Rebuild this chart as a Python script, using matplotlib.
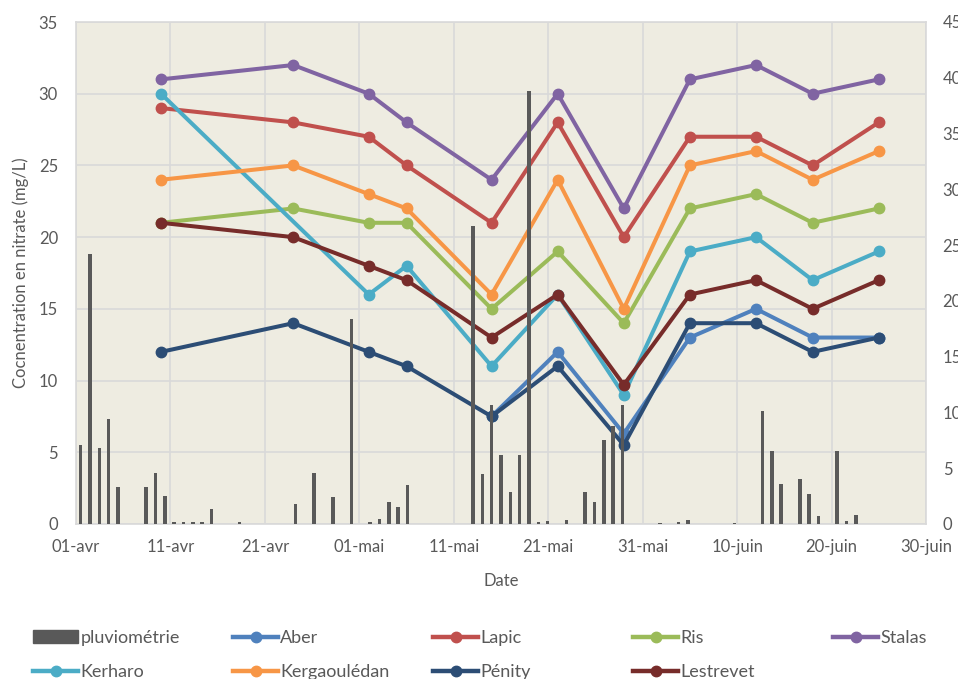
import matplotlib
matplotlib.use("Agg")
import matplotlib.pyplot as plt
import matplotlib.dates as mdates
from matplotlib.lines import Line2D
from matplotlib.patches import Patch
import numpy as np
import pandas as pd

plt.rcParams['font.family'] = ['Lato', 'DejaVu Sans']

# ---------------- data ----------------
start_date = "2019-04-01"
end_date = "2019-06-30"
sample_dates = ["2019-04-10", "2019-04-24", "2019-05-02", "2019-05-06", "2019-05-15",
                "2019-05-22", "2019-05-29", "2019-06-05", "2019-06-12", "2019-06-18",
                "2019-06-25"]

nan = np.nan
aber = [nan, nan, nan, nan, 7.5, 12, 6.3, 13, 15, 13, 13]
lapic = [29, 28, 27, 25, 21, 28, 20, 27, 27, 25, 28]
ris = [21, 22, 21, 21, 15, 19, 14, 22, 23, 21, 22]
stalas = [31, 32, 30, 28, 24, 30, 22, 31, 32, 30, 31]
kerharo = [30, nan, 16, 18, 11, 16, 9, 19, 20, 17, 19]
kergaouledan = [24, 25, 23, 22, 16, 24, 15, 25, 26, 24, 26]
penity = [12, 14, 12, 11, 7.5, 11, 5.5, 14, 14, 12, 13]
lestrevet = [21, 20, 18, 17, 13, 16, 9.7, 16, 17, 15, 17]

# daily rainfall, 01-avr .. 30-juin (91 days)
pluvio = [7.1, 24.2, 6.8, 9.4, 3.3, 0, 0, 3.3, 4.6, 2.5,
          0.2, 0.2, 0.2, 0.2, 1.3, 0, 0, 0.2, 0, 0,
          0, 0, 0, 1.8, 0, 4.6, 0, 2.4, 0, 18.4,
          0, 0.2, 0.45, 2.0, 1.5, 3.5, 0, 0, 0, 0,
          0, 0, 26.7, 4.5, 10.7, 6.2, 2.9, 6.2, 38.8, 0.2,
          0.3, 0, 0.4, 0, 2.9, 2.0, 7.5, 8.8, 10.7, 0,
          0, 0, 0.1, 0, 0.2, 0.4, 0, 0, 0, 0,
          0.1, 0, 0, 10.1, 6.5, 3.6, 0, 4.0, 2.7, 0.75,
          0, 6.5, 0.3, 0.85, 0, 0, 0, 0, 0, 0, 0]

xtick_labels = ["01-avr", "11-avr", "21-avr", "01-mai", "11-mai", "21-mai",
                "31-mai", "10-juin", "20-juin", "30-juin"]

series_names = ["Aber", "Lapic", "Ris", "Stalas", "Kerharo", "Kergaoulédan", "Pénity", "Lestrevet"]
series_values = [aber, lapic, ris, stalas, kerharo, kergaouledan, penity, lestrevet]
series_colors = ["#4F81BD", "#C0504D", "#9BBB59", "#8064A2", "#4BACC6", "#F79646", "#2C4D75", "#772C2A"]
bar_color = "#595959"
text_color = "#595959"
grid_color = "#D9D9D9"

# ---------------- figure ----------------
W, H = 958, 679
fig = plt.figure(figsize=(W / 100, H / 100), dpi=100)
left, right, top, bottom = 76, 926, 22, 524
ax = fig.add_axes([left / W, 1 - bottom / H, (right - left) / W, (bottom - top) / H])
ax.set_facecolor("#EEECE1")

x0 = mdates.date2num(pd.Timestamp(start_date))
x1 = mdates.date2num(pd.Timestamp(end_date))
xd = mdates.date2num(pd.to_datetime(sample_dates))

for name, vals, col in zip(series_names, series_values, series_colors):
    v = np.array(vals, dtype=float)
    m = ~np.isnan(v)
    ax.plot(xd[m], v[m], color=col, lw=2.9, marker="o", ms=7.5,
            solid_joinstyle="round", solid_capstyle="round", label=name, zorder=3)

ax.set_xlim(x0, x1)
ax.set_ylim(0, 35)
ax.set_yticks(np.arange(0, 36, 5))
ticks = x0 + np.arange(len(xtick_labels)) * 10
ax.set_xticks(ticks)
ax.set_xticklabels(xtick_labels)
ax.grid(True, color=grid_color, lw=1.2)
ax.set_axisbelow(True)
for s in ax.spines.values():
    s.set_color(grid_color)
    s.set_linewidth(1.2)
ax.tick_params(axis="both", length=0, colors=text_color, labelsize=12)
ax.tick_params(axis="y", pad=13)
ax.tick_params(axis="x", pad=11)
ax.set_ylabel("Cocnentration en nitrate (mg/L)", color=text_color, fontsize=12, labelpad=7)
ax.set_xlabel("Date", color=text_color, fontsize=12, labelpad=13)

# rainfall on secondary axis (category slots of one day each)
ax2 = ax.twinx()
n = len(pluvio)
slot = (x1 - x0) / n
bar_x = x0 + (np.arange(n) + 0.5) * slot
ax2.bar(bar_x, pluvio, width=slot * 0.38, color=bar_color, zorder=2, label="pluviométrie")
ax2.set_ylim(0, 45)
ax2.set_yticks(np.arange(0, 46, 5))
ax2.tick_params(axis="y", length=0, colors=text_color, labelsize=12, pad=12)
for s in ax2.spines.values():
    s.set_visible(False)
ax2.set_xlim(x0, x1)

# ---------------- legend (5 columns of 200 px) ----------------
handles = [Patch(facecolor=bar_color, edgecolor=bar_color)]
labels = ["pluviométrie"]
for name, col in zip(series_names, series_colors):
    handles.append(Line2D([], [], color=col, lw=3.2, marker="o", ms=7.5))
    labels.append(name)
ncols = 5
for c in range(ncols):
    idx = [i for i in range(len(handles)) if i % ncols == c]
    leg = fig.legend([handles[i] for i in idx], [labels[i] for i in idx],
                     loc="upper left", bbox_to_anchor=((33 + c * 200) / W, 1 - 630 / H),
                     frameon=False, fontsize=13, handlelength=2.5, handleheight=0.75,
                     handletextpad=0.12, labelspacing=1.0, borderaxespad=0, borderpad=0)
    for t in leg.get_texts():
        t.set_color(text_color)

fig.savefig("out.png", dpi=100, facecolor="white")
